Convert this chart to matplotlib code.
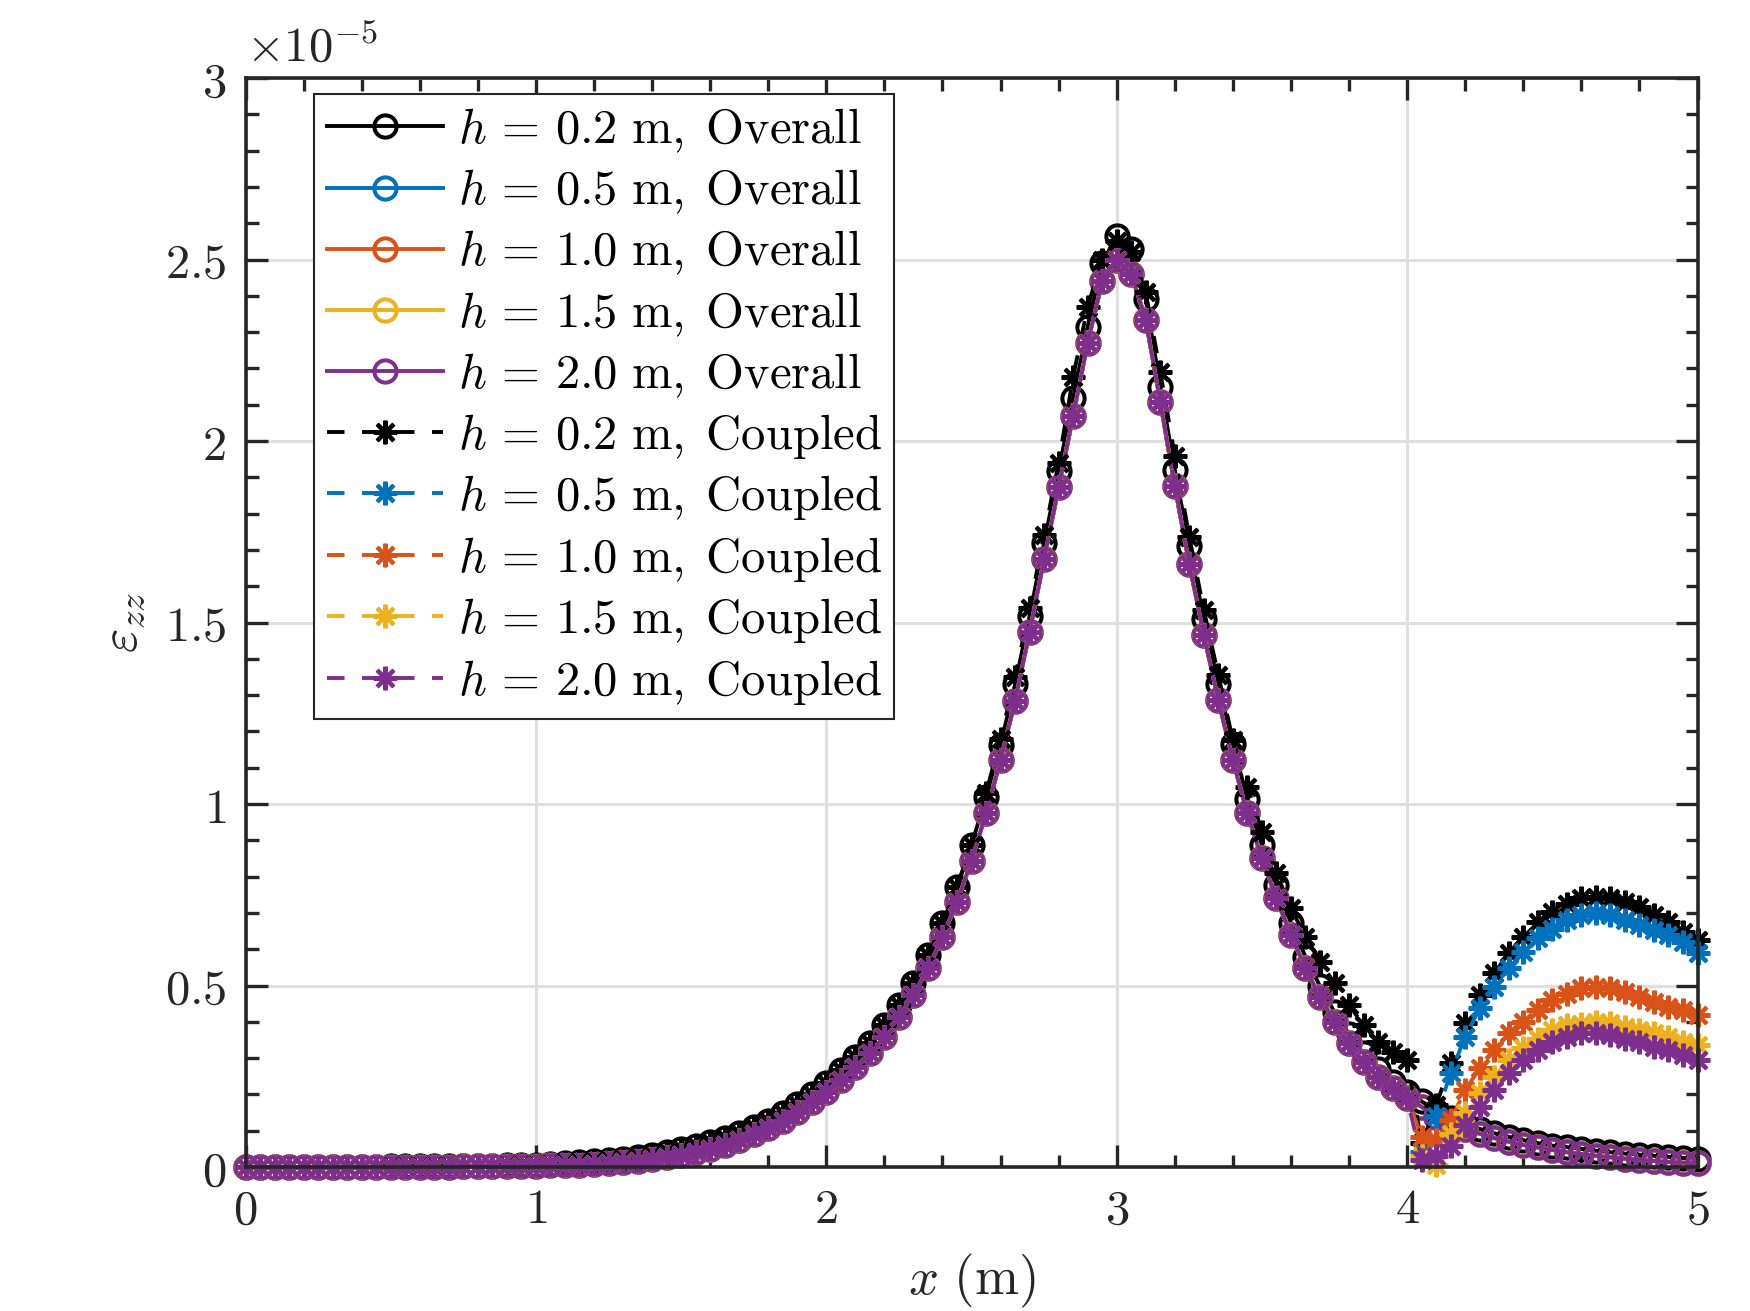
import numpy as np
import matplotlib
matplotlib.use("Agg")
import matplotlib.pyplot as plt

plt.rcParams['mathtext.fontset'] = 'cm'
plt.rcParams['font.family'] = ['DejaVu Serif']

# x positions (m), every 0.05 m
x = np.round(np.arange(0, 101) * 0.05, 2)

# strain values in units of 1e-5
eps_overall_02 = [
    0.000, 0.000, 0.000, 0.000, 0.000, 0.001, 0.001, 0.001, 0.001, 0.001, 0.002,
    0.002, 0.002, 0.002, 0.003, 0.003, 0.004, 0.004, 0.005, 0.006, 0.007,
    0.009, 0.011, 0.013, 0.016, 0.019, 0.023, 0.028, 0.034, 0.041, 0.049,
    0.058, 0.068, 0.079, 0.093, 0.110, 0.128, 0.150, 0.175, 0.202, 0.232,
    0.266, 0.303, 0.342, 0.390, 0.446, 0.508, 0.583, 0.671, 0.772, 0.887,
    1.020, 1.164, 1.330, 1.518, 1.719, 1.917, 2.118, 2.315, 2.490, 2.565,
    2.530, 2.390, 2.150, 1.920, 1.710, 1.510, 1.330, 1.165, 1.015, 0.888,
    0.776, 0.673, 0.579, 0.498, 0.427, 0.366, 0.313, 0.270, 0.235, 0.206,
    0.181, 0.155, 0.135, 0.119, 0.105, 0.093, 0.083, 0.074, 0.066, 0.059,
    0.055, 0.050, 0.045, 0.041, 0.037, 0.034, 0.031, 0.028, 0.025, 0.022,
]

# h = 0.5, 1.0, 1.5 and 2.0 m overall curves lie on top of each other
eps_overall_thick = [
    0.000, 0.000, 0.000, 0.000, 0.000, 0.000, 0.000, 0.000, 0.000, 0.000, 0.001,
    0.001, 0.001, 0.001, 0.001, 0.002, 0.002, 0.002, 0.003, 0.003, 0.004,
    0.005, 0.006, 0.007, 0.009, 0.011, 0.014, 0.018, 0.022, 0.027, 0.034,
    0.042, 0.051, 0.061, 0.074, 0.090, 0.107, 0.128, 0.152, 0.178, 0.207,
    0.240, 0.276, 0.313, 0.359, 0.414, 0.474, 0.547, 0.633, 0.731, 0.843,
    0.974, 1.121, 1.284, 1.474, 1.675, 1.872, 2.070, 2.270, 2.440, 2.500,
    2.460, 2.334, 2.108, 1.875, 1.661, 1.466, 1.286, 1.121, 0.974, 0.850,
    0.740, 0.639, 0.547, 0.469, 0.400, 0.341, 0.290, 0.249, 0.217, 0.190,
    0.166, 0.139, 0.120, 0.105, 0.092, 0.080, 0.070, 0.061, 0.054, 0.047,
    0.041, 0.036, 0.031, 0.027, 0.023, 0.020, 0.017, 0.014, 0.012, 0.010,
]

# coupled h = 0.2 m, from x = 2.55 m on (before that it follows the overall curve)
coupled_02_right = [
    1.030, 1.180, 1.350, 1.540, 1.740, 1.940, 2.177, 2.370, 2.500, 2.550,
    2.520, 2.410, 2.190, 1.960, 1.736, 1.534, 1.355, 1.176, 1.048, 0.924,
    0.809, 0.713, 0.634, 0.566, 0.506, 0.446, 0.391, 0.345, 0.318, 0.295,
    0.066, 0.170, 0.286, 0.396, 0.474, 0.534, 0.589, 0.635, 0.676, 0.703,
    0.726, 0.740, 0.745, 0.740, 0.731, 0.717, 0.694, 0.676, 0.648, 0.625,
]

# coupled curves for x = 4.05 ... 5.00 m
tail_05 = [0.042, 0.140, 0.258, 0.359, 0.437, 0.497, 0.547, 0.593, 0.630, 0.657,
           0.680, 0.694, 0.699, 0.694, 0.680, 0.667, 0.653, 0.639, 0.620, 0.589]
tail_10 = [0.084, 0.075, 0.130, 0.212, 0.272, 0.322, 0.368, 0.400, 0.432, 0.460,
           0.478, 0.492, 0.497, 0.492, 0.483, 0.469, 0.455, 0.442, 0.432, 0.419]
tail_15 = [0.030, 0.005, 0.090, 0.150, 0.203, 0.249, 0.295, 0.327, 0.354, 0.377,
           0.391, 0.395, 0.400, 0.396, 0.387, 0.377, 0.368, 0.359, 0.345, 0.336]
tail_20 = [0.020, 0.030, 0.058, 0.115, 0.166, 0.212, 0.258, 0.295, 0.322, 0.345,
           0.359, 0.368, 0.368, 0.364, 0.354, 0.345, 0.331, 0.322, 0.309, 0.295]

h_labels = ['0.2', '0.5', '1.0', '1.5', '2.0']
colors = ['#000000', '#0072BD', '#D95319', '#EDB120', '#7E2F8E']

overall = [eps_overall_02] + [eps_overall_thick] * 4
coupled = [eps_overall_02[:51] + coupled_02_right,
           eps_overall_thick[:81] + tail_05,
           eps_overall_thick[:81] + tail_10,
           eps_overall_thick[:81] + tail_15,
           eps_overall_thick[:81] + tail_20]

fig = plt.figure(figsize=(17.5, 13.11), dpi=100)
ax = fig.add_axes([0.1403, 0.1098, 0.8297, 0.8307])

lw = 2.8
for h, c, y in zip(h_labels, colors, overall):
    ax.plot(x, y, '-', color=c, lw=lw, marker='o', ms=16, mew=2.9,
            mfc='none', clip_on=False,
            label=r'$h\,=\,%s\ \mathrm{m,}\;\mathrm{Overall}$' % h)
for h, c, y in zip(h_labels, colors, coupled):
    ax.plot(x, y, color=c, lw=lw, ls=(0, (4.5, 4.5)), marker=(8, 2, 0),
            ms=17, mew=2.9, clip_on=False,
            label=r'$h\,=\,%s\ \mathrm{m,}\;\mathrm{Coupled}$' % h)

ax.set_xlim(0, 5)
ax.set_ylim(0, 3)
ax.set_xticks(np.arange(0, 6))
ax.set_xticklabels([r'$%d$' % v for v in range(6)])
yt = [0, 0.5, 1, 1.5, 2, 2.5, 3]
ax.set_yticks(yt)
ax.set_yticklabels([r'$%g$' % v for v in yt])
ax.set_xticks(np.arange(0, 5.01, 0.2), minor=True)
ax.set_yticks(np.arange(0, 3.01, 0.1), minor=True)

ax.grid(True, which='major', color='#dfdfdf', lw=2.2)
ax.set_axisbelow(True)
for s in ax.spines.values():
    s.set_color('#262626')
    s.set_linewidth(2.6)
ax.tick_params(which='both', direction='in', top=True, right=True,
               color='#262626', width=2.4, labelsize=35, labelcolor='#262626')
ax.tick_params(which='major', length=16, pad=14)
ax.tick_params(which='minor', length=9)

ax.set_xlabel(r'$x\ (\mathrm{m})$', fontsize=38, color='#262626', labelpad=13)
ax.set_ylabel(r'$\varepsilon_{zz}$', fontsize=38, color='#262626', labelpad=12)
ax.text(0.0, 1.006, r'$\times10^{-5}$', transform=ax.transAxes,
        fontsize=35, ha='left', va='bottom', color='#262626')

leg = ax.legend(loc='upper left', bbox_to_anchor=(0.0475, 0.985),
                borderaxespad=0, fontsize=35, fancybox=False, framealpha=1,
                edgecolor='#262626', handlelength=2.4, handletextpad=0.3,
                labelspacing=0.255, borderpad=0.25)
leg.get_frame().set_linewidth(1.5)

fig.savefig('out.png', dpi=100, facecolor='white')
